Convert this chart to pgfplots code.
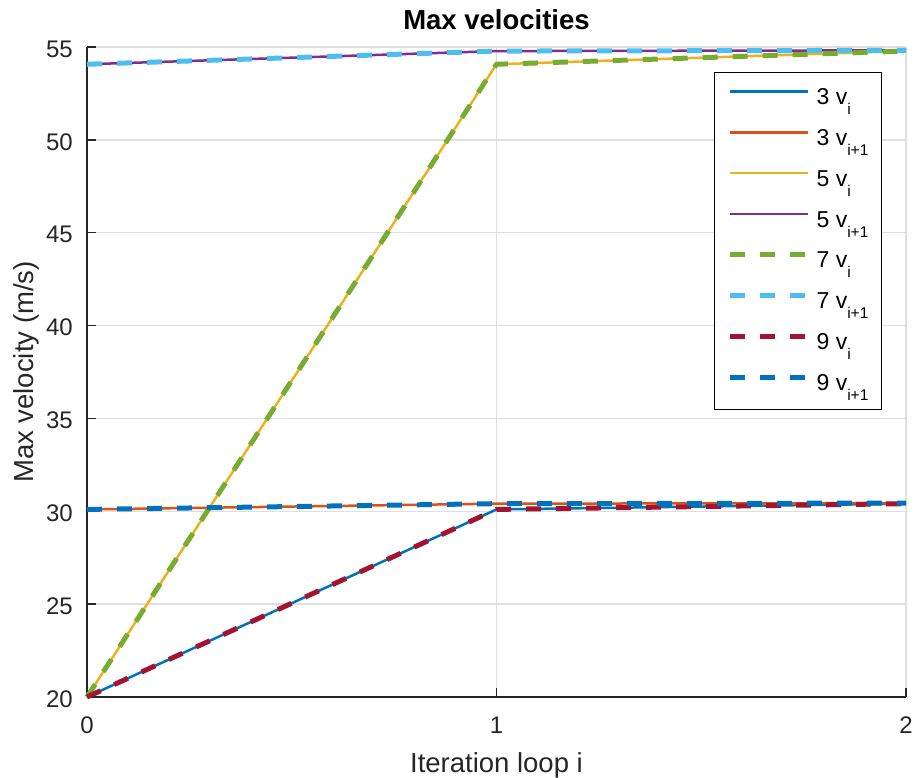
\documentclass[border=0pt]{standalone}
\usepackage{fontspec}
\setmainfont{Liberation Sans}
\usepackage{pgfplots}
\pgfplotsset{compat=1.18}

\definecolor{mblue}{rgb}{0,0.447,0.741}
\definecolor{morange}{rgb}{0.85,0.325,0.098}
\definecolor{myellow}{rgb}{0.929,0.694,0.125}
\definecolor{mpurple}{rgb}{0.494,0.184,0.556}
\definecolor{mgreen}{rgb}{0.466,0.674,0.188}
\definecolor{mcyan}{rgb}{0.301,0.745,0.933}
\definecolor{mred}{rgb}{0.635,0.078,0.184}
\definecolor{axisgray}{rgb}{0.15,0.15,0.15}
\definecolor{gridgray}{rgb}{0.875,0.875,0.875}

% subscript placed the MATLAB way
\newcommand\sub[1]{\raisebox{-10bp}{\fontsize{15.5bp}{17bp}\selectfont #1}}

\begin{document}
\begin{tikzpicture}
\path[use as bounding box] (-87bp,-81bp) rectangle (827bp,697bp);
\begin{axis}[
  at={(0,0)}, anchor=south west,
  scale only axis, width=819bp, height=650bp,
  xmin=0, xmax=2, ymin=20, ymax=55,
  xtick={0,1,2}, ytick={20,25,...,55},
  axis x line*=bottom, axis y line*=left,
  axis line style={-, draw=axisgray, line width=1.5bp},
  tick style={draw=axisgray, line width=1.5bp},
  tick align=inside, major tick length=9bp,
  grid=major, grid style={draw=gridgray, line width=1.5bp},
  clip=false,
  /pgf/number format/assume math mode=true,
  ticklabel style={font=\fontsize{24bp}{28bp}\selectfont, text=axisgray},
  xticklabel style={anchor=base, inner sep=0pt, yshift=-36bp},
  yticklabel style={anchor=east, inner sep=0pt, xshift=-14bp, yshift=-2bp},
  title={Max velocities},
  title style={font=\bfseries\fontsize{27.5bp}{30bp}\selectfont, at={(axis description cs:0.5,1.01846)}, anchor=base, inner sep=0pt},
  xlabel={Iteration loop i},
  xlabel style={font=\fontsize{27.5bp}{30bp}\selectfont, text=axisgray, at={(axis description cs:0.5,-0.1169)}, anchor=base, inner sep=0pt},
  ylabel={Max velocity (m/s)},
  ylabel style={font=\fontsize{27.5bp}{30bp}\selectfont, text=axisgray, at={(axis description cs:-0.0659,0.5)}, anchor=base, inner sep=0pt},
  legend cell align=left,
  legend image code/.code={\draw[#1] (0bp,6.5bp) -- (78bp,6.5bp);},
  legend style={at={(axis description cs:0.9707,0.9615)}, anchor=north east,
    font=\fontsize{23bp}{28bp}\selectfont, draw=black, line width=1.2bp,
    inner xsep=13bp, inner ysep=8bp, row sep=5.8bp,
    nodes={inner sep=0pt, text height=24bp, text depth=11bp},
    /tikz/every odd column/.append style={column sep=6bp}},
]
\addplot[mblue, line width=2.5bp] coordinates {(0,20) (1,30.1) (2,30.41)};
\addlegendentry{3 v\sub{i}}
\addplot[morange, line width=2.5bp] coordinates {(0,30.1) (1,30.41) (2,30.44)};
\addlegendentry{3 v\sub{i+1}}
\addplot[myellow, line width=2.5bp] coordinates {(0,20) (1,54.07) (2,54.78)};
\addlegendentry{5 v\sub{i}}
\addplot[mpurple, line width=2.5bp] coordinates {(0,54.07) (1,54.78) (2,54.82)};
\addlegendentry{5 v\sub{i+1}}
\addplot[mgreen, line width=5bp, dash pattern=on 15bp off 15bp] coordinates {(0,20) (1,54.07) (2,54.78)};
\addlegendentry{7 v\sub{i}}
\addplot[mcyan, line width=5bp, dash pattern=on 15bp off 15bp] coordinates {(0,54.07) (1,54.78) (2,54.82)};
\addlegendentry{7 v\sub{i+1}}
\addplot[mred, line width=5bp, dash pattern=on 15bp off 15bp] coordinates {(0,20) (1,30.1) (2,30.41)};
\addlegendentry{9 v\sub{i}}
\addplot[mblue, line width=5bp, dash pattern=on 15bp off 15bp] coordinates {(0,30.1) (1,30.41) (2,30.44)};
\addlegendentry{9 v\sub{i+1}}
\end{axis}
\end{tikzpicture}
\end{document}
